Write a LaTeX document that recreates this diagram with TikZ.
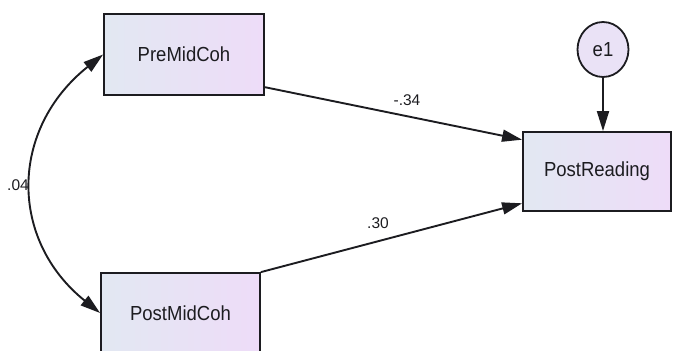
\documentclass[tikz,border=0pt]{standalone}
\usepackage{fontspec}
\setmainfont{Liberation Sans}
\usetikzlibrary{arrows.meta,shadings,shapes.geometric}

\definecolor{boxL}{RGB}{226,232,242}
\definecolor{boxR}{RGB}{238,220,248}
\definecolor{errfill}{RGB}{234,226,246}
\definecolor{ink}{RGB}{28,28,32}

\tikzset{
  varbox/.style={draw=ink, line width=1.8pt, left color=boxL, right color=boxR,
    inner sep=0pt, text=ink,
    font=\fontsize{18.5}{20}\selectfont},
  errnode/.style={draw=ink, line width=1.8pt, fill=errfill, ellipse,
    inner sep=0pt, text=ink, font=\fontsize{18.5}{20}\selectfont},
  path/.style={draw=ink, line width=1.9pt, -{Triangle[length=20pt,width=12pt]}},
  covpath/.style={draw=ink, line width=1.9pt,
    {Triangle[length=20pt,width=12pt]}-{Triangle[length=20pt,width=12pt]}},
  coef/.style={text=ink, inner sep=0pt, font=\fontsize{15.5}{17}\selectfont}
}

\newcommand{\tallish}[1]{\scalebox{1}[1.1]{#1}}

\begin{document}
\begin{tikzpicture}[x=1pt,y=-1pt]
  \useasboundingbox (0,0) rectangle (673,351);

  % observed variables
  \node[varbox, minimum width=160pt, minimum height=81pt] (pre) at (184,54.5) {\tallish{PreMidCoh}};
  \node[varbox, minimum width=159pt, minimum height=80pt] (postmid) at (180.5,313) {\tallish{PostMidCoh}};
  \node[varbox, minimum width=148pt, minimum height=79pt] (postread) at (597,171.5) {\tallish{PostReading}};

  % error term
  \node[errnode, minimum width=51pt, minimum height=55pt] (e1) at (603,49.5) {\tallish{e1}};

  % regression paths
  \draw[path] (pre.-22) -- (postread.157);
  \draw[path] (postmid.north east) -- (postread.203);
  \draw[path] (e1.south) -- (e1.south |- postread.north);

  % covariance
  \draw[covpath] (pre.west) .. controls +(-94,75) and +(-91,-73) .. (postmid.west);

  % coefficients
  \node[coef] (c1) at (407,100) {-.34};
  \node[coef] (c2) at (378,223) {.30};
  \node[coef] (c3) at (18,185) {.04};
\end{tikzpicture}
\end{document}
